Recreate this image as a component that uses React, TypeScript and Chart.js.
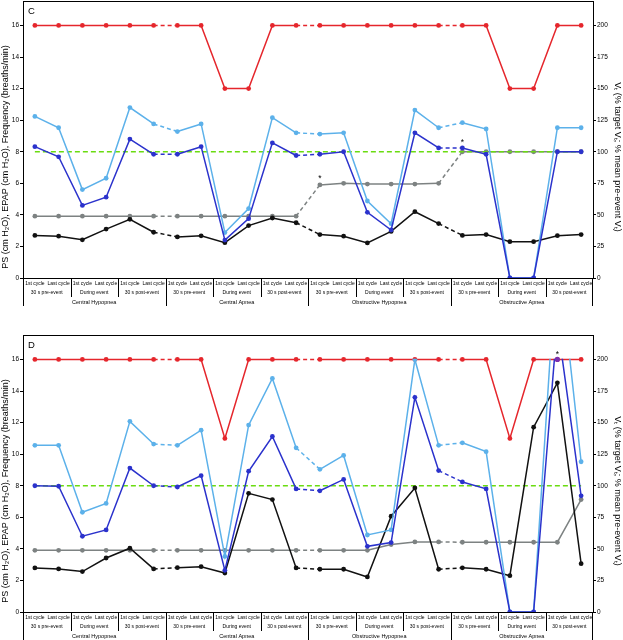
import React, { useEffect, useRef } from "react";
import { Chart, registerables } from "chart.js";
Chart.register(...registerables);

// ---------- categories ----------
const cycleLabels = [
  "1st cycle", "Last cycle", "1st cycle", "Last cycle", "1st cycle", "Last cycle",
  "1st cycle", "Last cycle", "1st cycle", "Last cycle", "1st cycle", "Last cycle",
  "1st cycle", "Last cycle", "1st cycle", "Last cycle", "1st cycle", "Last cycle",
  "1st cycle", "Last cycle", "1st cycle", "Last cycle", "1st cycle", "Last cycle",
];
const phaseLabels = ["30 s pre-event", "During event", "30 s post-event"];
const eventLabels = ["Central Hypopnea", "Central Apnea", "Obstructive Hypopnea", "Obstructive Apnea"];
const dashedAfter = [5, 11, 17]; // segments from post-event to next pre-event

const leftTitle = "PS (cm H\u2082O), EPAP (cm H\u2082O), Frequency (breaths/min)";
const rightTitle = "V\u209C (% target V\u209C; % mean pre-event V\u209C)";

// ---------- Panel C ----------
const psC = [16, 16, 16, 16, 16, 16, 16, 16, 12, 12, 16, 16, 16, 16, 16, 16, 16, 16, 16, 16, 12, 12, 16, 16];
const vtTargetC = [128, 119, 70, 79, 135, 122, 116, 122, 36, 55, 127, 115, 114, 115, 61, 43, 133, 119, 123, 118, 0, 0, 119, 119];
const vtMeanC = [104, 96, 57.5, 64, 110, 98, 98, 104, 30, 47, 107, 97, 98, 100, 52, 38, 115, 103, 103, 98, 0, 0, 100, 100];
const epapC = [3.92, 3.92, 3.92, 3.92, 3.92, 3.92, 3.92, 3.92, 3.92, 3.92, 3.92, 3.92, 5.9, 6.0, 5.95, 5.95, 5.95, 6.0, 8, 8, 8, 8, 8, 8];
const freqC = [2.7, 2.65, 2.42, 3.1, 3.72, 2.9, 2.6, 2.67, 2.24, 3.32, 3.8, 3.5, 2.75, 2.65, 2.22, 2.95, 4.2, 3.45, 2.7, 2.75, 2.3, 2.3, 2.68, 2.75];
const refC = [100, 100, 100, 100, 100, 100, 100, 100, 100, 100, 100, 100, 100, 100, 100, 100, 100, 100, 100, 100, 100, 100, 100, 100];
const starsC = [{ i: 12, v: 6.45 }, { i: 18, v: 8.75 }];

// ---------- Panel D ----------
const psD = [16, 16, 16, 16, 16, 16, 16, 16, 11, 16, 16, 16, 16, 16, 16, 16, 16, 16, 16, 16, 11, 16, 16, 16];
const vtTargetD = [132, 132, 79, 86, 151, 133, 132, 144, 44, 148, 185, 130, 113, 124, 61, 65, 200, 132, 134, 127, 0, 0, 290, 119];
const vtMeanD = [100, 99.6, 60, 65, 114, 100, 99, 108, 33, 111.5, 139, 97.5, 96, 105, 52, 55, 170, 112, 103, 97.5, 0, 0, 229, 92];
const epapD = [3.91, 3.91, 3.91, 3.91, 3.91, 3.91, 3.91, 3.91, 3.91, 3.91, 3.91, 3.91, 3.91, 3.91, 3.91, 4.27, 4.44, 4.44, 4.42, 4.42, 4.42, 4.42, 4.42, 7.12];
const freqD = [2.79, 2.73, 2.56, 3.42, 4.04, 2.73, 2.81, 2.87, 2.47, 7.52, 7.12, 2.79, 2.71, 2.71, 2.22, 6.07, 7.86, 2.71, 2.8, 2.71, 2.3, 11.71, 14.52, 3.06];
const refD = [100, 100, 100, 100, 100, 100, 100, 100, 100, 100, 100, 100, 100, 100, 100, 100, 100, 100, 100, 100, 100, 100, 100, 100];
const markD = [null, null, null, null, null, null, null, null, null, null, null, null, null, null, null, null, null, null, null, null, null, null, 200, null];
const starsD = [{ i: 22, v: 16.45 }];

const LEFT_MAX = 17.55;
const RIGHT_MAX = LEFT_MAX * 12.5;
const FONT = '"Liberation Sans", Arial, sans-serif';

const RED = "#e5262c";
const LBLUE = "#5cb1ea";
const DBLUE = "#2b32cc";
const GRAY = "#7d8282";
const GREEN = "#6adc10";
const BLACK = "#111111";

function lineDs(data: any[], color: string, axis: string, extra: any = {}) {
  return {
    data,
    yAxisID: axis,
    borderColor: color,
    backgroundColor: color,
    pointBackgroundColor: color,
    pointBorderWidth: 0,
    pointRadius: 2.4,
    borderWidth: 1.5,
    tension: 0,
    segment: {
      borderDash: (c: any) => (dashedAfter.includes(c.p0DataIndex) ? [4, 3] : undefined),
    },
    ...extra,
  };
}

type PanelProps = {
  letter: string;
  padTop: number;
  xHeight: number;
  ps: number[];
  vtT: number[];
  vtM: number[];
  epap: number[];
  freq: number[];
  ref: number[];
  mark?: (number | null)[];
  stars: { i: number; v: number }[];
  clipBlue: boolean;
};

function Panel(p: PanelProps) {
  const ref = useRef<HTMLCanvasElement>(null);
  useEffect(() => {
    const canvas = ref.current!;
    const decor = {
      id: "decor",
      beforeDatasetDraw(chart: any, args: any) {
        const ds = chart.data.datasets[args.index];
        if (ds.clipTopValue != null) {
          const y = chart.scales[ds.yAxisID].getPixelForValue(ds.clipTopValue);
          const c = chart.ctx;
          c.save();
          c.beginPath();
          c.rect(0, y - 0.8, chart.width, chart.height);
          c.clip();
        }
      },
      afterDatasetDraw(chart: any, args: any) {
        const ds = chart.data.datasets[args.index];
        if (ds.clipTopValue != null) chart.ctx.restore();
      },
      afterDraw(chart: any) {
        const c = chart.ctx;
        const { left, right, top, bottom } = chart.chartArea;
        const x = chart.scales.x;
        const yL = chart.scales.y;
        const px = (i: number) => x.getPixelForValue(i);
        c.save();
        // frame top
        c.strokeStyle = "#000";
        c.lineWidth = 1;
        c.beginPath();
        c.moveTo(left, top + 0.5);
        c.lineTo(right, top + 0.5);
        c.stroke();
        // separators
        for (let k = 0; k <= 24; k++) {
          const xb = k === 0 ? left : k === 24 ? right - 1 : (px(k - 1) + px(k)) / 2;
          const xr = Math.round(xb) + 0.5;
          let len = 0;
          if (k % 6 === 0) len = 28;
          else if (k % 2 === 0) len = 19;
          if (len) {
            c.beginPath();
            c.moveTo(xr, bottom);
            c.lineTo(xr, bottom + len);
            c.stroke();
          }
        }
        c.fillStyle = "#000";
        c.textAlign = "center";
        c.textBaseline = "middle";
        c.font = `5px ${FONT}`;
        cycleLabels.forEach((t, i) => c.fillText(t, px(i), bottom + 6));
        for (let j = 0; j < 12; j++) {
          c.fillText(phaseLabels[j % 3], (px(2 * j) + px(2 * j + 1)) / 2, bottom + 15);
        }
        c.font = `5.5px ${FONT}`;
        eventLabels.forEach((t, e) => c.fillText(t, (px(6 * e) + px(6 * e + 5)) / 2, bottom + 24.5));
        // axis titles
        const cy = top + (bottom - top) * 0.563;
        c.font = `9px ${FONT}`;
        c.save();
        c.translate(5.5, cy);
        c.rotate(-Math.PI / 2);
        c.fillText(leftTitle, 0, 0);
        c.restore();
        c.save();
        c.translate(617.5, cy);
        c.rotate(Math.PI / 2);
        c.fillText(rightTitle, 0, 0);
        c.restore();
        // panel letter
        c.textAlign = "left";
        c.textBaseline = "alphabetic";
        c.font = `9.5px ${FONT}`;
        c.fillText(p.letter, 28, top + 12.5);
        // asterisks
        c.textAlign = "center";
        c.font = `8.5px ${FONT}`;
        p.stars.forEach((s) => c.fillText("*", px(s.i), yL.getPixelForValue(s.v) + 5));
        c.restore();
      },
    };

    const blueClip = p.clipBlue ? { clipTopValue: 200 } : {};
    const datasets: any[] = [];
    if (p.mark) {
      datasets.push({
        data: p.mark,
        yAxisID: "y1",
        showLine: false,
        pointRadius: 2.6,
        pointBorderWidth: 0,
        pointBackgroundColor: "#7a2fb0",
        borderColor: "#7a2fb0",
      });
    }
    datasets.push(lineDs(p.vtM, DBLUE, "y1", blueClip));
    datasets.push(lineDs(p.vtT, LBLUE, "y1", blueClip));
    datasets.push(lineDs(p.freq, BLACK, "y"));
    datasets.push(
      lineDs(p.ref, GREEN, "y1", { borderDash: [5, 3], pointRadius: 0, borderWidth: 1.6, segment: {} })
    );
    datasets.push(lineDs(p.epap, GRAY, "y"));
    datasets.push(lineDs(p.ps, RED, "y"));

    const noPad = (s: any) => {
      s.paddingTop = 0;
      s.paddingBottom = 0;
    };

    const chart = new Chart(canvas, {
      type: "line",
      data: { labels: cycleLabels.map((_, i) => String(i)), datasets },
      plugins: [decor],
      options: {
        animation: false,
        responsive: false,
        devicePixelRatio: 1,
        layout: { autoPadding: false, padding: { top: p.padTop, left: 0, right: 0, bottom: 0 } },
        plugins: { legend: { display: false }, tooltip: { enabled: false } },
        scales: {
          x: {
            type: "category",
            offset: true,
            grid: { display: false },
            border: { display: true, color: "#000", width: 1 },
            ticks: { display: false },
            afterFit: (s: any) => {
              s.height = p.xHeight;
              s.paddingLeft = 0;
              s.paddingRight = 0;
            },
          },
          y: {
            position: "left",
            min: 0,
            max: LEFT_MAX,
            ticks: {
              stepSize: 2,
              includeBounds: false,
              color: "#000",
              padding: 1,
              font: { size: 6.5, family: FONT },
            },
            grid: { drawOnChartArea: false, tickLength: 3, color: "#000" },
            border: { display: true, color: "#000", width: 1 },
            afterFit: (s: any) => {
              s.width = 23;
              noPad(s);
            },
          },
          y1: {
            position: "right",
            min: 0,
            max: RIGHT_MAX,
            ticks: {
              stepSize: 25,
              includeBounds: false,
              color: "#000",
              padding: 1,
              font: { size: 6.5, family: FONT },
            },
            grid: { drawOnChartArea: false, tickLength: 3, color: "#000" },
            border: { display: true, color: "#000", width: 1 },
            afterFit: (s: any) => {
              s.width = 30;
              noPad(s);
            },
          },
        },
      } as any,
    });
    return () => chart.destroy();
  }, []);
  return <canvas ref={ref} width={623} height={320} style={{ display: "block", width: 623, height: 320 }} />;
}

export default function App() {
  return (
    <div style={{ position: "absolute", left: 0, top: 0, width: 623, height: 640, background: "#fff" }}>
      <Panel
        letter="C"
        padTop={1}
        xHeight={42}
        ps={psC}
        vtT={vtTargetC}
        vtM={vtMeanC}
        epap={epapC}
        freq={freqC}
        ref={refC}
        stars={starsC}
        clipBlue={false}
      />
      <Panel
        letter="D"
        padTop={15}
        xHeight={28}
        ps={psD}
        vtT={vtTargetD}
        vtM={vtMeanD}
        epap={epapD}
        freq={freqD}
        ref={refD}
        mark={markD}
        stars={starsD}
        clipBlue={true}
      />
    </div>
  );
}
